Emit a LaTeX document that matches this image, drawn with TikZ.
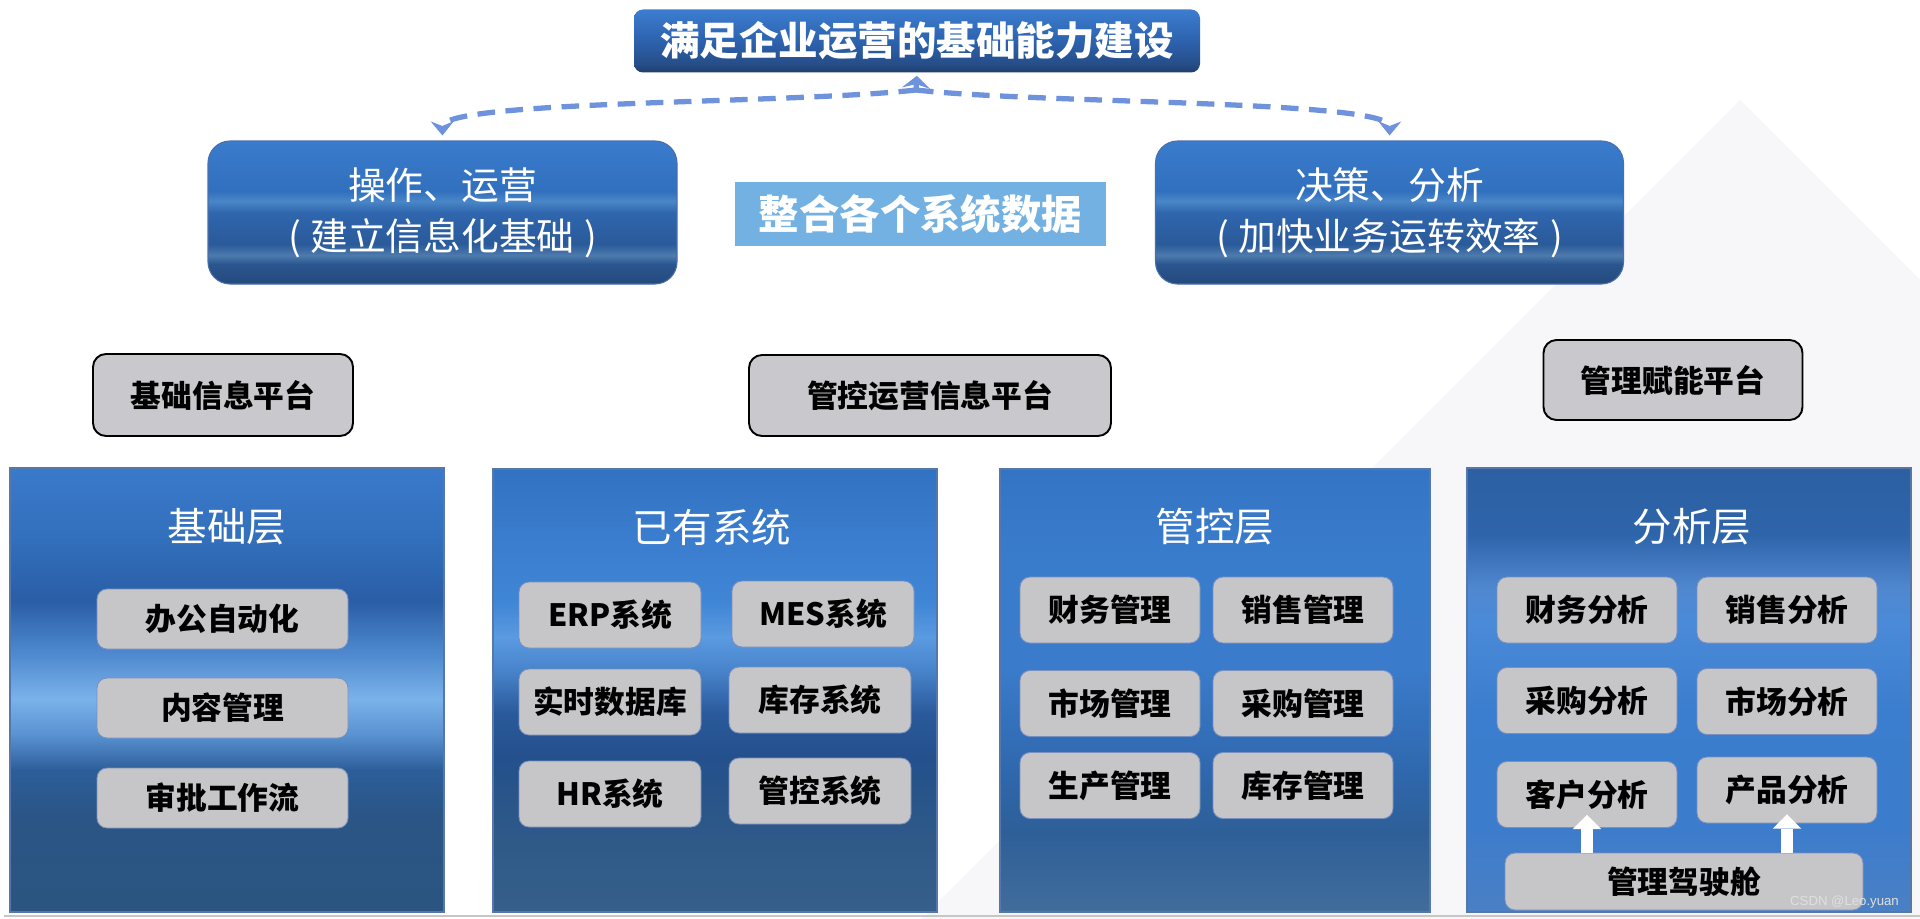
\documentclass[tikz,border=0pt]{standalone}
\usepackage{fontspec}
\newfontfamily\cjk{Noto Sans CJK SC}
\newfontfamily\wmfont{Liberation Sans}
\usetikzlibrary{arrows.meta,calc}

\definecolor{flowblue}{HTML}{6E92DC}
\definecolor{cellgray}{HTML}{C6C6C8}
\definecolor{cellline}{HTML}{7A90BE}
\definecolor{platgray}{HTML}{C9C8CC}
\definecolor{mergeblue}{HTML}{72B1E1}
\definecolor{bgtri}{HTML}{F7F7F9}
\definecolor{panelline}{HTML}{5577AA}
\definecolor{boxline}{HTML}{4A6FB0}
% title box
\definecolor{g1}{HTML}{1F3F6C}\definecolor{g2}{HTML}{264E88}
\definecolor{g3}{HTML}{2D62AE}\definecolor{g4}{HTML}{3C7DD0}
% blue boxes
\definecolor{b1}{HTML}{24497C}\definecolor{b2}{HTML}{2B5690}\definecolor{b3}{HTML}{4D7BAD}
\definecolor{b4}{HTML}{2A5A9A}\definecolor{b5}{HTML}{2F66AE}\definecolor{b6}{HTML}{4A86C8}
\definecolor{b7}{HTML}{3070BE}\definecolor{b8}{HTML}{3B7BCC}
% layer panels
\definecolor{la1}{HTML}{2B5580}\definecolor{la2}{HTML}{2A5586}\definecolor{la3}{HTML}{2D5E9A}
\definecolor{la4}{HTML}{5A92D2}\definecolor{la5}{HTML}{7AB2EA}\definecolor{la6}{HTML}{4F8AD0}
\definecolor{la7}{HTML}{2A5EA6}\definecolor{la8}{HTML}{3370BD}\definecolor{la9}{HTML}{3A7ACB}
\definecolor{lb1}{HTML}{365F8A}\definecolor{lb2}{HTML}{2F5A88}\definecolor{lb3}{HTML}{24508C}
\definecolor{lb4}{HTML}{2A5A9C}\definecolor{lb5}{HTML}{4A85CC}\definecolor{lb6}{HTML}{5A9AE0}
\definecolor{lb7}{HTML}{4086D6}\definecolor{lb8}{HTML}{3A7CCD}\definecolor{lb9}{HTML}{3272C2}
\definecolor{lc1}{HTML}{416D9C}\definecolor{lc2}{HTML}{2E5F98}\definecolor{lc3}{HTML}{2F68AE}
\definecolor{lc4}{HTML}{3A7BCB}\definecolor{lc5}{HTML}{3A7CCC}\definecolor{lc6}{HTML}{3474C4}
\definecolor{ld1}{HTML}{4A80C4}\definecolor{ld2}{HTML}{3C7CCC}\definecolor{ld3}{HTML}{3B7DCE}
\definecolor{ld4}{HTML}{4A8AD8}\definecolor{ld5}{HTML}{5088D0}\definecolor{ld6}{HTML}{2E64AA}
\definecolor{ld7}{HTML}{2C60A2}

\pgfdeclareverticalshading{goalsh}{100bp}{color(0bp)=(g1); color(25bp)=(g1); color(32bp)=(g2);
  color(50bp)=(g3); color(75bp)=(g4); color(100bp)=(g4)}
\pgfdeclareverticalshading{boxsh}{100bp}{color(0bp)=(b1); color(25bp)=(b1); color(32bp)=(b2);
  color(35bp)=(b3); color(39bp)=(b4); color(50bp)=(b5); color(54bp)=(b6); color(57.5bp)=(b7);
  color(75bp)=(b8); color(100bp)=(b8)}
\pgfdeclareverticalshading{l1sh}{100bp}{color(0bp)=(la1); color(25bp)=(la1); color(36bp)=(la2);
  color(41bp)=(la3); color(45bp)=(la4); color(49bp)=(la5); color(54bp)=(la6); color(60bp)=(la7);
  color(67.5bp)=(la8); color(75bp)=(la9); color(100bp)=(la9)}
\pgfdeclareverticalshading{l2sh}{100bp}{color(0bp)=(lb1); color(25bp)=(lb1); color(32.5bp)=(lb2);
  color(42.5bp)=(lb3); color(47.5bp)=(lb4); color(52.5bp)=(lb5); color(56bp)=(lb6); color(60bp)=(lb7);
  color(67.5bp)=(lb8); color(75bp)=(lb9); color(100bp)=(lb9)}
\pgfdeclareverticalshading{l3sh}{100bp}{color(0bp)=(lc1); color(25bp)=(lc1); color(34bp)=(lc2);
  color(41bp)=(lc3); color(52.5bp)=(lc4); color(65bp)=(lc5); color(75bp)=(lc6); color(100bp)=(lc6)}
\pgfdeclareverticalshading{l4sh}{100bp}{color(0bp)=(ld1); color(25bp)=(ld1); color(35bp)=(ld2);
  color(47.5bp)=(ld3); color(57.5bp)=(ld4); color(61.5bp)=(ld5); color(67.5bp)=(ld6);
  color(75bp)=(ld7); color(100bp)=(ld7)}

\begin{document}
\begin{tikzpicture}[>=Stealth, x=0.02cm, y=-0.02cm]
  \tikzset{
    sz/.style 2 args={minimum width=#1*0.02cm, minimum height=#2*0.02cm},
    box/.style={inner sep=0pt, font=\cjk\bfseries\fontsize{17.5}{20}\selectfont},
    cell/.style={box, rounded corners=0.2cm, fill=cellgray, draw=cellline, line width=0.5pt},
    plat/.style={box, rounded corners=0.26cm, fill=platgray, draw=black, line width=1.1pt},
    panel/.style={draw=panelline, line width=0.6pt, inner sep=0pt},
    ptitle/.style={text=white, font=\cjk\fontsize{22.5}{26}\selectfont},
    bluebox/.style={shading=boxsh, draw=boxline, line width=0.6pt, rounded corners=0.44cm,
      text=white, align=center, inner sep=0pt, font=\cjk\fontsize{21.5}{29}\selectfont},
    goalbox/.style={shading=goalsh, rounded corners=0.18cm, inner sep=0pt, text=white,
      font=\cjk\bfseries\fontsize{22.5}{26}\selectfont},
    mergebox/.style={fill=mergeblue, inner sep=0pt, text=white, font=\cjk\bfseries\fontsize{23}{26}\selectfont},
    flow/.style={flowblue, line width=3pt, dash pattern=on 10pt off 6pt, shorten >=0.1cm,
      -{Stealth[length=8pt,width=13pt]}},
    blockarr/.style={white, line width=0.25cm, -{Triangle[length=8pt,width=16pt,line width=0pt 0 0]}}
  }
  \useasboundingbox (0,0) rectangle (1920,919);
  \fill[white] (0,0) rectangle (1920,919);
  \fill[bgtri] (921,919) -- (1740,100) -- (1920,280) -- (1920,919) -- cycle;
  \draw[gray!45, line width=0.04cm] (4,916) -- (1920,916);

  % goal and the two directions
  \node[goalbox, sz={566}{63}] (goal) at (917,41) {满足企业运营的基础能力建设};
  \node[bluebox, sz={469}{143}] (ops) at (442.5,212.5) {操作、运营\\(\hspace{.25em}建立信息化基础\hspace{.25em})};
  \node[bluebox, sz={468}{143}] (dec) at (1389.5,212.5) {决策、分析\\(\hspace{.25em}加快业务运转效率\hspace{.25em})};
  \node[mergebox, sz={371}{64}] (merge) at (920.5,214) {整合各个系统数据};

  \coordinate (peak) at (916,90);
  \draw[flow] (peak) .. controls (790,104) and (442,100) .. (ops.north);
  \draw[flow] (peak) .. controls (1042,104) and (1390,100) .. (dec.north);
  \draw[flowblue, line width=3pt, shorten >=0.06cm, -{Stealth[length=7pt,width=16pt]}] (peak) -- (goal.south);

  % platforms
  \node[plat, sz={260}{82}] (pbase) at (223,395) {基础信息平台};
  \node[plat, sz={362}{81}] (pctl) at (930,395.5) {管控运营信息平台};
  \node[plat, sz={259}{80}] (pmgt) at (1673,380) {管理赋能平台};

  % layers
  \node[panel, shading=l1sh, sz={434}{444}] (base) at (227,690) {};
  \node[ptitle] (baset) at (227,527) {基础层};
  \foreach \y/\t/\n in {619/办公自动化/oa, 708/内容管理/cm, 798/审批工作流/wf}
    \node[cell, sz={251}{60}] (\n) at (222.5,\y) {\t};

  \node[panel, shading=l2sh, sz={444}{443}] (sys) at (715,690.5) {};
  \node[ptitle] (syst) at (712,527) {已有系统};
  \foreach \x/\y/\t/\n in {610/615/ERP系统/erp, 823/614/MES系统/mes, 610/702/实时数据库/rtdb,
      820/700/库存系统/inv, 610/794/HR系统/hr, 820/791/管控系统/ctl}
    \node[cell, sz={182}{66}] (\n) at (\x,\y) {\t};

  \node[panel, shading=l3sh, sz={430}{443}] (ctrl) at (1215,690.5) {};
  \node[ptitle] (ctrlt) at (1215,527) {管控层};
  \foreach \x/\y/\t/\n in {1110/610/财务管理/cwgl, 1303/610/销售管理/xsgl, 1110/703.5/市场管理/scgl,
      1303/703.5/采购管理/cggl, 1110/785.5/生产管理/spgl, 1303/785.5/库存管理/kcgl}
    \node[cell, sz={180}{66}] (\n) at (\x,\y) {\t};

  \node[panel, shading=l4sh, sz={444}{444}] (ana) at (1689,690) {};
  \node[ptitle] (anat) at (1692,527) {分析层};
  \foreach \x/\y/\t/\n in {1587/610/财务分析/cwfx, 1787/610/销售分析/xsfx, 1587/700.5/采购分析/cgfx,
      1787/701.5/市场分析/scfx, 1587/794.5/客户分析/khfx, 1787/790/产品分析/cpfx}
    \node[cell, sz={180}{66}] (\n) at (\x,\y) {\t};
  \node[cell, sz={358}{57}] (cockpit) at (1684,881.5) {管理驾驶舱};
  \draw[blockarr] (cockpit.north -| khfx) -- ($(khfx.south)+(0,-13)$);
  \draw[blockarr] (cockpit.north -| cpfx) -- ($(cpfx.south)+(0,-9)$);

  \node[font=\wmfont\fontsize{7.5}{8}\selectfont, text=white!88!black, anchor=east] (wm) at (1905,902) {CSDN @Leo.yuan};
\end{tikzpicture}
\end{document}
